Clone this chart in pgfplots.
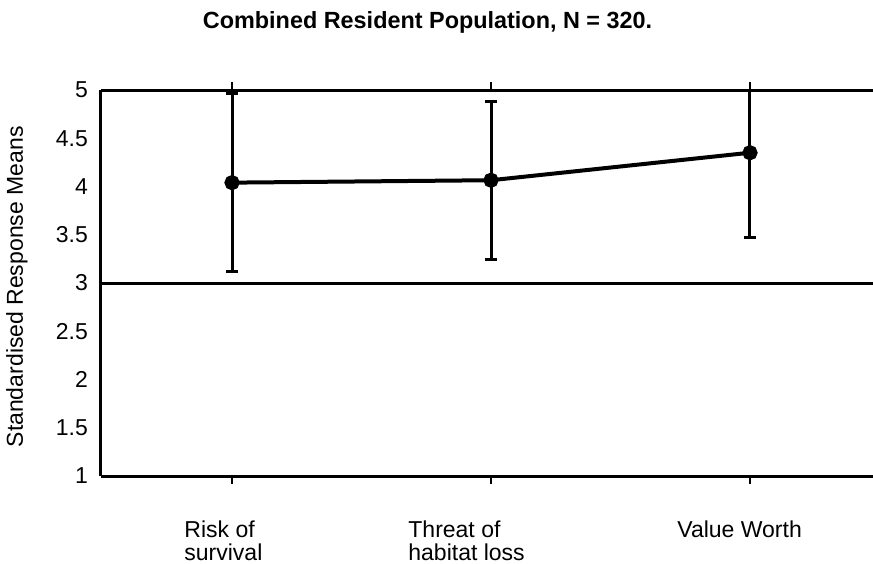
\documentclass[border=0pt]{standalone}
\usepackage{fontspec}
\setmainfont{Liberation Sans}
\usepackage{pgfplots}
\pgfplotsset{compat=1.18}

\newcommand{\lab}{\fontsize{11.5}{11.5}\selectfont}

\begin{document}
\begin{tikzpicture}
\begin{axis}[
  at={(0,0)}, anchor=south west,
  scale only axis, width=386pt, height=193pt,
  xmin=0.494, xmax=3.475, ymin=1, ymax=5,
  clip mode=individual,
  axis line style={draw=none},
  xtick={1,2,3}, xticklabels={},
  xtick pos=both, ytick pos=left, tick align=outside,
  major tick length=4pt,
  ytick={1,1.5,2,2.5,3,3.5,4,4.5,5},
  yticklabels={1,1.5,2,2.5,3,3.5,4,4.5,5},
  x tick style={black, line width=1.4pt},
  y tick style={draw=none},
  yticklabel style={font=\lab, xshift=1pt},
  ylabel={Standardised Response Means},
  ylabel style={font=\lab, at={(axis description cs:0,0.49)}, yshift=42pt, anchor=center},
]
% axis frame: left, bottom, top, and the reference line at 3
\draw[line width=1.5pt] (rel axis cs:0,0) -- (rel axis cs:0,1);
\draw[line width=1.5pt] (rel axis cs:0,0) -- (rel axis cs:1,0);
\draw[line width=1.5pt] (rel axis cs:0,1) -- (rel axis cs:1,1);
\draw[line width=1.5pt] (axis cs:0.494,3) -- (axis cs:3.475,3);

\addplot[black, line width=2pt, mark=*, mark size=2.8pt,
  error bars/.cd, y dir=both, y explicit,
  error bar style={line width=1.5pt},
  error mark=-,
  error mark options={rotate=90, line width=1.5pt, mark size=3pt}]
  table[x=x, y=y, y error=e] {
  x y     e
  1 4.04  0.92
  2 4.065 0.82
  3 4.35  0.88
};

\node[anchor=base, font=\bfseries\fontsize{11.7}{14}\selectfont]
  at (rel axis cs:0.423,1) [yshift=31pt] {Combined Resident Population, N = 320.};

\node[anchor=north west, align=left, inner sep=0pt, font=\lab]
  at (axis cs:1,1) [xshift=-24pt, yshift=-22pt] {Risk of\\survival};
\node[anchor=north west, align=left, inner sep=0pt, font=\lab]
  at (axis cs:2,1) [xshift=-41.5pt, yshift=-22pt] {Threat of\\habitat loss};
\node[anchor=north west, align=left, inner sep=0pt, font=\lab]
  at (axis cs:3,1) [xshift=-36.5pt, yshift=-22pt] {Value Worth};
\end{axis}
\pgfresetboundingbox
\path[use as bounding box] (-50.5pt,-43.5pt) rectangle (386pt,238pt);
\end{tikzpicture}
\end{document}
